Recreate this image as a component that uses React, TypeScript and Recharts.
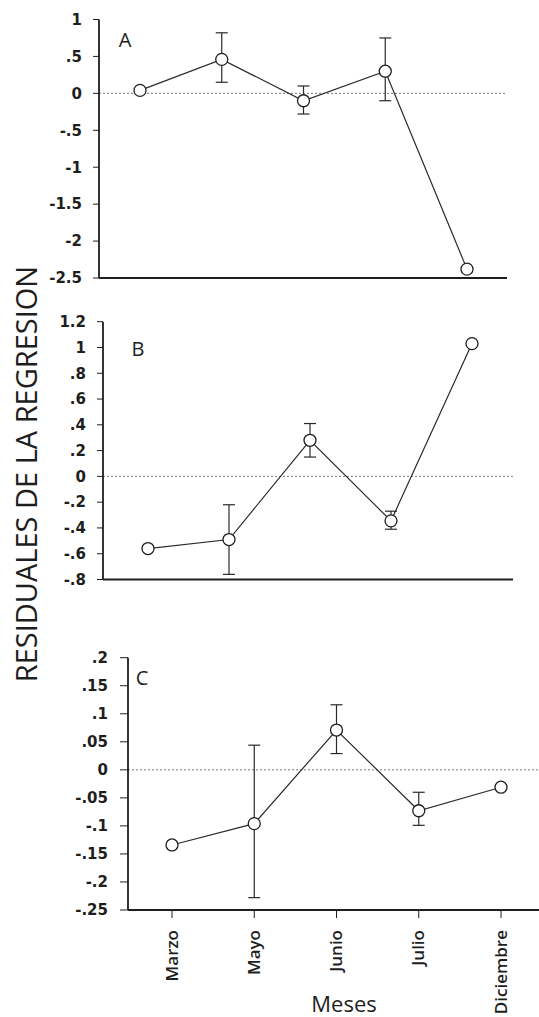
import { ErrorBar, Line, LineChart, ReferenceLine, XAxis, YAxis } from "recharts";

const months = ["Marzo", "Mayo", "Junio", "Julio", "Diciembre"];

const valuesA = [0.04, 0.46, -0.1, 0.3, -2.38];
const lowA = [null, 0.15, -0.28, -0.1, null];
const highA = [null, 0.82, 0.1, 0.75, null];
const ticksA = [1, 0.5, 0, -0.5, -1, -1.5, -2, -2.5];

const valuesB = [-0.56, -0.49, 0.28, -0.345, 1.03];
const lowB = [null, -0.76, 0.15, -0.41, null];
const highB = [null, -0.22, 0.41, -0.27, null];
const ticksB = [1.2, 1, 0.8, 0.6, 0.4, 0.2, 0, -0.2, -0.4, -0.6, -0.8];

const valuesC = [-0.134, -0.096, 0.071, -0.073, -0.031];
const lowC = [null, -0.228, 0.029, -0.099, null];
const highC = [null, 0.044, 0.116, -0.04, null];
const ticksC = [0.2, 0.15, 0.1, 0.05, 0, -0.05, -0.1, -0.15, -0.2, -0.25];

const font = "'Open Sans', sans-serif";
const tickFont = "'DejaVu Sans', sans-serif";
const ink = "#1e1e1e";

// .5 / -.5 style, like the original
const fmt = (v: number) => String(v).replace("0.", ".");

function buildRows(values: number[], low: (number | null)[], high: (number | null)[]) {
  return months.map((m, i) => ({
    month: m,
    value: values[i],
    err: low[i] == null || high[i] == null ? null : [values[i] - (low[i] as number), (high[i] as number) - values[i]],
  }));
}

function MonthTick({ x, y, payload }: any) {
  const ax = x - 1;
  const ay = y + 10;
  return (
    <text
      x={ax}
      y={ay}
      textAnchor="end"
      dominantBaseline="central"
      transform={`rotate(-90, ${ax}, ${ay})`}
      fontFamily={font}
      fontSize={17}
      fontWeight={600}
      fill={ink}
    >
      {payload.value}
    </text>
  );
}

type PanelProps = {
  values: number[];
  low: (number | null)[];
  high: (number | null)[];
  ticks: number[];
  top: number;
  height: number;
  axisX: number;
  right: number;
  marginTop: number;
  xHeight: number;
  padLeft: number;
  padRight: number;
  tickLen: number;
  tickGap: number;
  labels?: boolean;
};

function Panel(p: PanelProps) {
  const data = buildRows(p.values, p.low, p.high);
  const lo = p.ticks[p.ticks.length - 1];
  const hi = p.ticks[0];
  return (
    <div style={{ position: "absolute", left: 0, top: p.top }}>
      <LineChart
        width={539}
        height={p.height}
        data={data}
        margin={{ top: p.marginTop, right: p.right, bottom: 0, left: 0 }}
      >
        <ReferenceLine y={0} stroke="#777" strokeDasharray="2 2" strokeWidth={1} />
        <XAxis
          dataKey="month"
          type="category"
          height={p.xHeight}
          padding={{ left: p.padLeft, right: p.padRight }}
          axisLine={{ stroke: ink, strokeWidth: 1.8 }}
          tickLine={{ stroke: ink }}
          tickSize={p.labels ? 8 : 4}
          tickMargin={2}
          interval={0}
          tick={p.labels ? <MonthTick /> : false}
        />
        <YAxis
          type="number"
          width={p.axisX}
          domain={[lo, hi]}
          ticks={p.ticks}
          interval={0}
          tickFormatter={fmt}
          axisLine={{ stroke: ink, strokeWidth: 1.8 }}
          tickLine={{ stroke: ink }}
          tickSize={p.tickLen}
          tickMargin={p.tickGap}
          tick={{ fill: ink, fontFamily: tickFont, fontSize: 15, fontWeight: 700 }}
        />
        <Line
          dataKey="value"
          stroke="#2a2a2a"
          strokeWidth={1.2}
          isAnimationActive={false}
          dot={{ r: 6, fill: "#fff", stroke: ink, strokeWidth: 1.3 }}
        >
          <ErrorBar dataKey="err" direction="y" width={6} stroke="#2a2a2a" strokeWidth={1.2} />
        </Line>
      </LineChart>
    </div>
  );
}

const letter = (t: string, x: number, y: number) => (
  <div
    style={{
      position: "absolute",
      left: x - 12,
      top: y - 14,
      width: 24,
      textAlign: "center",
      lineHeight: "28px",
      fontFamily: font,
      fontSize: 20,
      fontWeight: 500,
      color: ink,
    }}
  >
    {t}
  </div>
);

export default function App() {
  return (
    <div style={{ position: "absolute", left: 0, top: 0, width: 539, height: 1017, background: "#fff", overflow: "hidden" }}>
      <Panel values={valuesA} low={lowA} high={highA} ticks={ticksA} top={0} height={300} axisX={99} right={32} marginTop={19.5} xHeight={22} padLeft={41} padRight={40} tickLen={6} tickGap={11} />
      <Panel values={valuesB} low={lowB} high={highB} ticks={ticksB} top={300} height={300} axisX={103} right={26} marginTop={21.7} xHeight={20.5} padLeft={45} padRight={41} tickLen={6} tickGap={11} />
      <Panel values={valuesC} low={lowC} high={highC} ticks={ticksC} top={640} height={377} axisX={128} right={0} marginTop={17.7} xHeight={107} padLeft={44} padRight={38} tickLen={8} tickGap={12} labels />
      {letter("A", 125, 40)}
      {letter("B", 138, 349)}
      {letter("C", 142, 678)}
      <div
        style={{
          position: "absolute",
          left: 26 - 250,
          top: 474 - 18,
          width: 500,
          height: 36,
          lineHeight: "36px",
          textAlign: "center",
          transform: "rotate(-90deg)",
          fontFamily: font,
          fontSize: 29,
          color: ink,
          whiteSpace: "nowrap",
        }}
      >
        RESIDUALES DE LA REGRESION
      </div>
      <div
        style={{
          position: "absolute",
          left: 344 - 60,
          top: 1003 - 15,
          width: 120,
          lineHeight: "30px",
          textAlign: "center",
          fontFamily: font,
          fontSize: 22,
          color: ink,
        }}
      >
        Meses
      </div>
    </div>
  );
}
